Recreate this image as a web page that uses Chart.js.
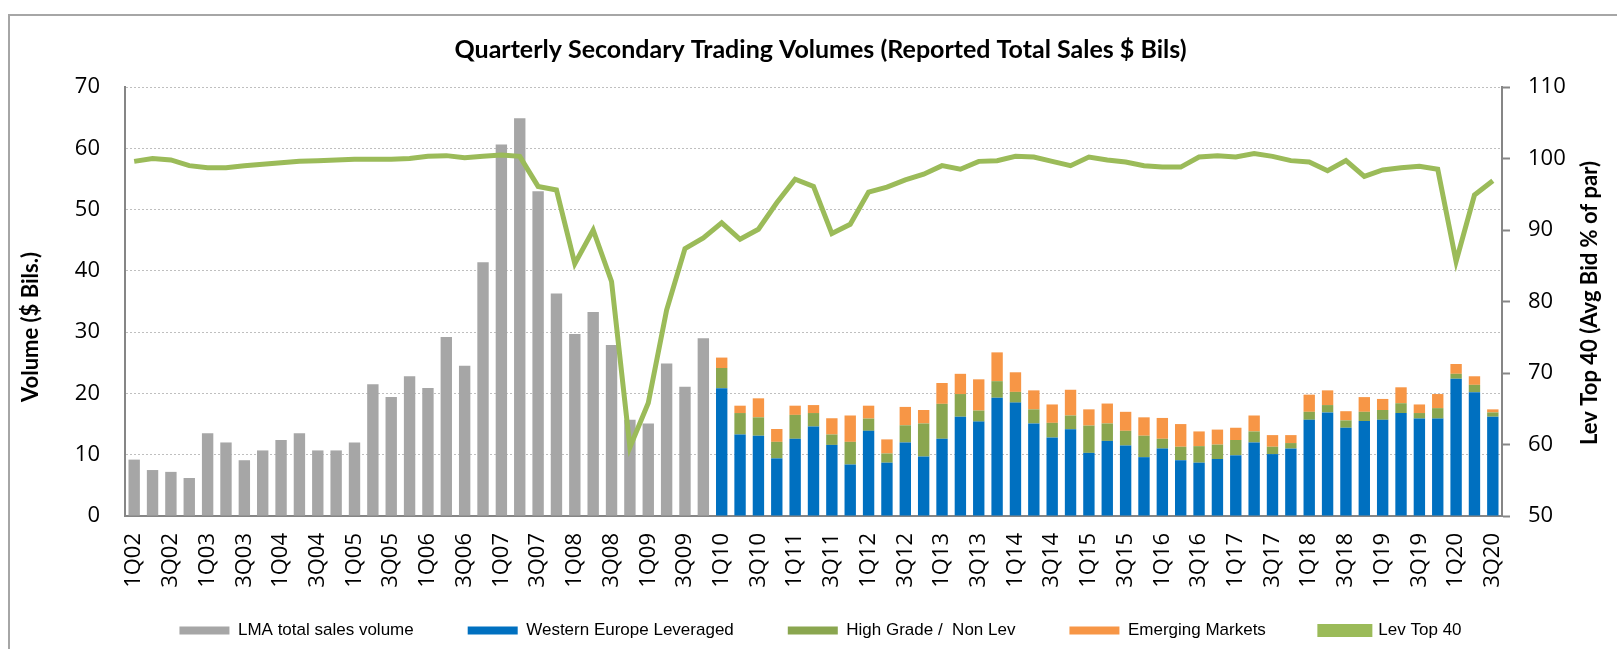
<!DOCTYPE html>
<html>
<head>
<meta charset="utf-8">
<title>Quarterly Secondary Trading Volumes</title>
<script src="https://cdn.jsdelivr.net/npm/chart.js@4.4.1/dist/chart.umd.min.js"></script>
<style>
  html, body { margin: 0; padding: 0; background: #fff; overflow: hidden; }
  #wrap { position: relative; width: 1617px; height: 649px; }
  #frame { position: absolute; left: 8px; top: 14px; width: 1700px; height: 700px;
           border-top: 2px solid #a6a6a6; border-left: 2px solid #a6a6a6; }
  #myChart { position: absolute; left: 0; top: 0; }
</style>
</head>
<body>
<div id="wrap">
  <div id="frame"></div>
  <canvas id="myChart" width="1617" height="649"></canvas>
</div>
<script>
// Quarters shown on the x axis
const quarters = [
  '1Q02','2Q02','3Q02','4Q02','1Q03','2Q03','3Q03','4Q03',
  '1Q04','2Q04','3Q04','4Q04','1Q05','2Q05','3Q05','4Q05',
  '1Q06','2Q06','3Q06','4Q06','1Q07','2Q07','3Q07','4Q07',
  '1Q08','2Q08','3Q08','4Q08','1Q09','2Q09','3Q09','4Q09',
  '1Q10','2Q10','3Q10','4Q10','1Q11','2Q11','3Q11','4Q11',
  '1Q12','2Q12','3Q12','4Q12','1Q13','2Q13','3Q13','4Q13',
  '1Q14','2Q14','3Q14','4Q14','1Q15','2Q15','3Q15','4Q15',
  '1Q16','2Q16','3Q16','4Q16','1Q17','2Q17','3Q17','4Q17',
  '1Q18','2Q18','3Q18','4Q18','1Q19','2Q19','3Q19','4Q19',
  '1Q20','2Q20','3Q20'
];

// LMA total sales volume, 1Q02 - 4Q09 ($ bils)
const lmaTotal = [
  9.2, 7.5, 7.2, 6.2, 13.5, 12.0, 9.1, 10.7,
  12.4, 13.5, 10.7, 10.7, 12.0, 21.5, 19.4, 22.8,
  20.9, 29.2, 24.5, 41.4, 60.6, 64.9, 53.0, 36.3,
  29.7, 33.3, 27.9, 15.7, 15.1, 24.9, 21.1, 29.0
];

// split by segment, 1Q10 - 3Q20 ($ bils)
const westernEuropeLev = [
  20.85, 13.3, 13.1, 9.4, 12.6, 14.6, 11.6, 8.4,
  13.9, 8.7, 12.0, 9.7, 12.6, 16.2, 15.4, 19.3,
  18.5, 15.1, 12.8, 14.15, 10.3, 12.25, 11.5, 9.6,
  11.0, 9.1, 8.7, 9.3, 9.9, 12.0, 10.1, 11.0,
  15.7, 16.9, 14.4, 15.5, 15.7, 16.8, 15.9, 15.9,
  22.4, 20.2, 16.2
];
const highGradeNonLev = [
  3.3, 3.5, 3.0, 2.7, 3.9, 2.2, 1.7, 3.7,
  2.0, 1.5, 2.8, 5.4, 5.7, 3.7, 1.8, 2.7,
  1.75, 2.3, 2.4, 2.25, 4.45, 2.85, 2.4, 3.5,
  1.6, 2.2, 2.7, 2.35, 2.5, 1.8, 1.2, 0.9,
  1.3, 1.2, 1.2, 1.5, 1.6, 1.6, 0.9, 1.7,
  0.8, 1.2, 0.7
];
const emergingMarkets = [
  1.7, 1.2, 3.1, 2.1, 1.5, 1.3, 2.65, 4.3,
  2.1, 2.3, 3.0, 2.2, 3.4, 3.3, 5.1, 4.7,
  3.2, 3.1, 3.0, 4.2, 2.65, 3.25, 3.1, 3.0,
  3.4, 3.7, 2.4, 2.45, 2.0, 2.6, 1.9, 1.3,
  2.8, 2.4, 1.5, 2.4, 1.8, 2.6, 1.4, 2.3,
  1.6, 1.4, 0.5
];

// Lev Top 40, average bid % of par
const levTop40 = [
  99.6, 100.0, 99.8, 99.0, 98.7, 98.7, 99.0, 99.2,
  99.4, 99.6, 99.7, 99.8, 99.9, 99.9, 99.9, 100.0,
  100.3, 100.4, 100.1, 100.3, 100.5, 100.3, 96.1, 95.6,
  85.3, 90.0, 82.8, 59.6, 65.8, 78.8, 87.4, 88.9,
  91.0, 88.7, 90.1, 93.8, 97.1, 96.1, 89.5, 90.8,
  95.3, 96.0, 97.0, 97.8, 99.0, 98.5, 99.6, 99.7,
  100.3, 100.2, 99.6, 99.0, 100.2, 99.8, 99.5, 99.0,
  98.8, 98.8, 100.2, 100.4, 100.2, 100.7, 100.3, 99.7,
  99.5, 98.3, 99.7, 97.5, 98.4, 98.7, 98.9, 98.5,
  85.6, 94.9, 96.9
];

const volumeTicks = [0, 10, 20, 30, 40, 50, 60, 70];
const levTicks = [50, 60, 70, 80, 90, 100, 110];

const pre = Array(lmaTotal.length).fill(null);
const post = Array(westernEuropeLev.length).fill(null);

Chart.defaults.font.family = 'Lato, "Open Sans", sans-serif';
Chart.defaults.color = '#000';
const tickFont = { family: '"Open Sans", sans-serif', size: 22 };

const data = {
  labels: quarters,
  datasets: [
    { type: 'bar', label: 'LMA total sales volume', data: lmaTotal.concat(post),
      backgroundColor: '#a6a6a6', yAxisID: 'y', order: 1 },
    { type: 'bar', label: 'Western Europe Leveraged', data: pre.concat(westernEuropeLev),
      backgroundColor: '#0070c0', yAxisID: 'y', order: 1 },
    { type: 'bar', label: 'High Grade /  Non Lev', data: pre.concat(highGradeNonLev),
      backgroundColor: '#8aa64f', yAxisID: 'y', order: 1 },
    { type: 'bar', label: 'Emerging Markets', data: pre.concat(emergingMarkets),
      backgroundColor: '#f79646', yAxisID: 'y', order: 1 },
    { type: 'line', label: 'Lev Top 40', data: levTop40,
      borderColor: '#9bbb59', backgroundColor: '#9bbb59', borderWidth: 5,
      pointRadius: 0, tension: 0, yAxisID: 'y1', order: 0 }
  ]
};

// axis titles (both read bottom to top, like the original)
const axisTitles = {
  id: 'axisTitles',
  afterDraw(chart) {
    const ctx = chart.ctx;
    const put = (txt, x, y) => {
      ctx.save();
      ctx.fillStyle = '#000';
      ctx.font = 'bold 22px Lato, "Open Sans", sans-serif';
      ctx.textAlign = 'center';
      ctx.textBaseline = 'middle';
      ctx.translate(x, y);
      ctx.rotate(-Math.PI / 2);
      ctx.fillText(txt, 0, 0);
      ctx.restore();
    };
    put('Volume ($ Bils.)', 31, 327);
    put('Lev Top 40 (Avg Bid % of par)', 1590, 303);
  }
};

const options = {
  responsive: false,
  animation: false,
  devicePixelRatio: 1,
  layout: { padding: { left: 24, right: 0, top: 0, bottom: 0 } },
  datasets: { bar: { categoryPercentage: 1, barPercentage: 0.62 } },
  plugins: {
    title: {
      display: true,
      text: 'Quarterly Secondary Trading Volumes (Reported Total Sales $ Bils)',
      font: { size: 25, weight: 'bold' },
      color: '#000',
      padding: { top: 35, bottom: 22 }
    },
    legend: {
      position: 'bottom',
      labels: {
        boxWidth: 50, boxHeight: 8, padding: 54,
        color: '#000',
        font: { family: '"Liberation Sans Narrow", "Liberation Sans", Arial, sans-serif', size: 17 },
        sort: (a, b) => a.datasetIndex - b.datasetIndex
      }
    },
    tooltip: { enabled: false }
  },
  scales: {
    x: {
      stacked: true,
      grid: { display: false, drawTicks: false },
      border: { display: true, color: '#868686', width: 2 },
      ticks: {
        autoSkip: false, maxRotation: 90, minRotation: 90, padding: 17,
        font: tickFont,
        callback: function (v, i) { return i % 2 === 0 ? quarters[i] : ''; }
      },
      afterFit: (s) => {
        s.height = 52;
        // let the rotated labels run past the (short) axis box
        s._computeLabelArea = () => undefined;
      }
    },
    y: {
      stacked: true,
      position: 'left',
      min: 0, max: 70,
      afterBuildTicks: (s) => { s.ticks = volumeTicks.map(v => ({ value: v })); },
      grid: { color: '#bfbfbf', lineWidth: 1, drawTicks: false },
      border: { display: true, color: '#868686', width: 2, dash: [2, 2] },
      ticks: { padding: 25, font: tickFont },
      afterFit: (s) => { s.width = 101; }
    },
    y1: {
      position: 'right',
      min: 50, max: 110,
      afterBuildTicks: (s) => { s.ticks = levTicks.map(v => ({ value: v })); },
      grid: { drawOnChartArea: false, drawTicks: true, tickLength: 8, tickColor: '#868686', tickWidth: 2 },
      border: { display: true, color: '#868686', width: 2 },
      ticks: { padding: 18, font: tickFont },
      afterFit: (s) => { s.width = 115; }
    }
  }
};

const config = {
  data,
  options,
  plugins: [axisTitles]
};

const myChart = new Chart(document.getElementById('myChart').getContext('2d'), config);
</script>
</body>
</html>
